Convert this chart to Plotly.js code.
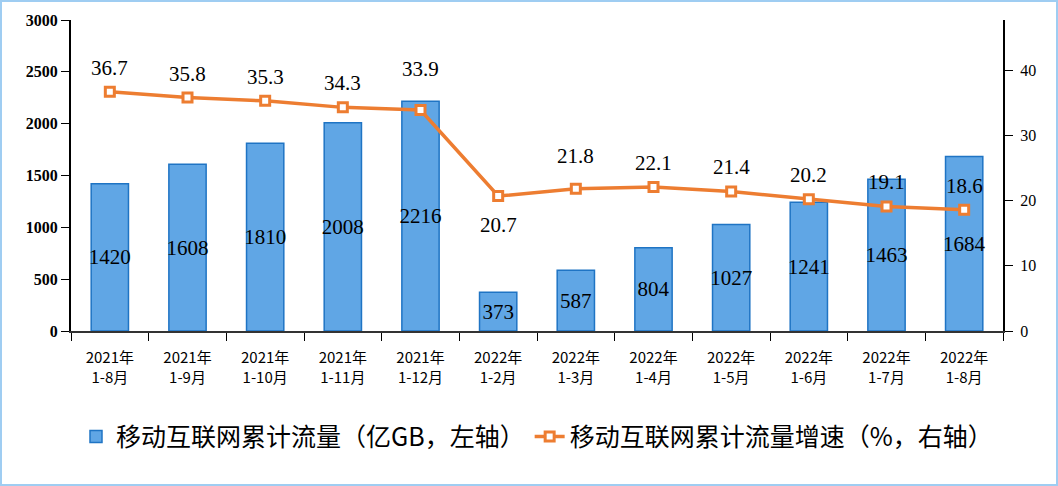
<!DOCTYPE html>
<html><head><meta charset="utf-8">
<script src="https://cdn.plot.ly/plotly-3.0.1.min.js"></script>
<style>html,body{margin:0;padding:0;background:#fff;}#wrap{position:relative;width:1058px;height:486px;}#chart{width:1058px;height:486px;}#frame{position:absolute;left:0;top:0;width:1054px;height:482px;border:2px solid #9fcdf2;pointer-events:none;}</style>
</head><body><div id="wrap"><div id="chart"></div><div id="frame"></div></div>
<script>
const categories = ["2021年<br>1-8月","2021年<br>1-9月","2021年<br>1-10月","2021年<br>1-11月","2021年<br>1-12月","2022年<br>1-2月","2022年<br>1-3月","2022年<br>1-4月","2022年<br>1-5月","2022年<br>1-6月","2022年<br>1-7月","2022年<br>1-8月"];
const traffic = [1420,1608,1810,2008,2216,373,587,804,1027,1241,1463,1684];
const growth = [36.7,35.8,35.3,34.3,33.9,20.7,21.8,22.1,21.4,20.2,19.1,18.6];
const barName = "移动互联网累计流量（亿GB，左轴）";
const lineName = "移动互联网累计流量增速（%，右轴）";

const data = [
 {type:"bar", x:categories, y:traffic, name:barName, width:0.48,
  marker:{color:"#60a6e5", line:{color:"#1f74c4", width:1.5}},
  text:traffic.map(String), textposition:"inside", insidetextanchor:"middle", textangle:0, constraintext:"none",
  textfont:{family:"Liberation Serif", size:21, color:"#000"}, hoverinfo:"none"},
 {type:"scatter", mode:"lines+markers", x:categories, y:growth, name:lineName, yaxis:"y2",
  line:{color:"#ed7d31", width:3.5},
  marker:{symbol:"square", size:9, color:"#fff", line:{color:"#ed7d31", width:3}},
  cliponaxis:false, hoverinfo:"none"}
];
// label placement: above points, except where the line dips
const annotations = growth.map((v,i)=>{
  let shift = 24;
  if (i===4) shift = 41;
  if (i===5) shift = -29;
  if (i===6) shift = 33;
  return {x:categories[i], y:v, xref:"x", yref:"y2", text:v.toFixed(1), showarrow:false,
    yshift:shift, font:{family:"Liberation Serif", size:21, color:"#000"}};
});
const layout = {
 width:1058, height:486, margin:{l:71, r:55, t:20, b:155},
 paper_bgcolor:"#fff", plot_bgcolor:"#fff", showlegend:true, bargap:0.52,
 annotations:annotations,
 xaxis:{type:"category", range:[-0.5,11.5], tickson:"boundaries", ticks:"outside", ticklen:8, tickcolor:"#000", tickwidth:1,
  showline:true, linecolor:"#333", linewidth:2, showgrid:false, automargin:false, ticklabelstandoff:12,
  tickfont:{family:"Noto Sans CJK SC", size:15, color:"#000"}},
 yaxis:{range:[0,3000], tickvals:[0,500,1000,1500,2000,2500,3000], showgrid:false, zeroline:false, automargin:false,
  showline:true, linecolor:"#000", linewidth:2, ticks:"outside", ticklen:8, tickcolor:"#000",
  tickfont:{family:"Liberation Serif", size:16, color:"#000", weight:"bold"}},
 yaxis2:{overlaying:"y", side:"right", range:[0,47.7], tickvals:[0,10,20,30,40], showgrid:false, zeroline:false, automargin:false,
  showline:true, linecolor:"#000", linewidth:2, ticks:"outside", ticklen:8, tickcolor:"#000", ticklabelstandoff:4,
  tickfont:{family:"Liberation Serif", size:16, color:"#000"}},
 legend:{orientation:"h", x:0.5, xanchor:"center", y:-0.34, yanchor:"middle",
  font:{family:"Noto Sans CJK SC", size:25, color:"#000"}, itemwidth:30}
};
Plotly.newPlot("chart", data, layout, {staticPlot:true});
</script></body></html>
